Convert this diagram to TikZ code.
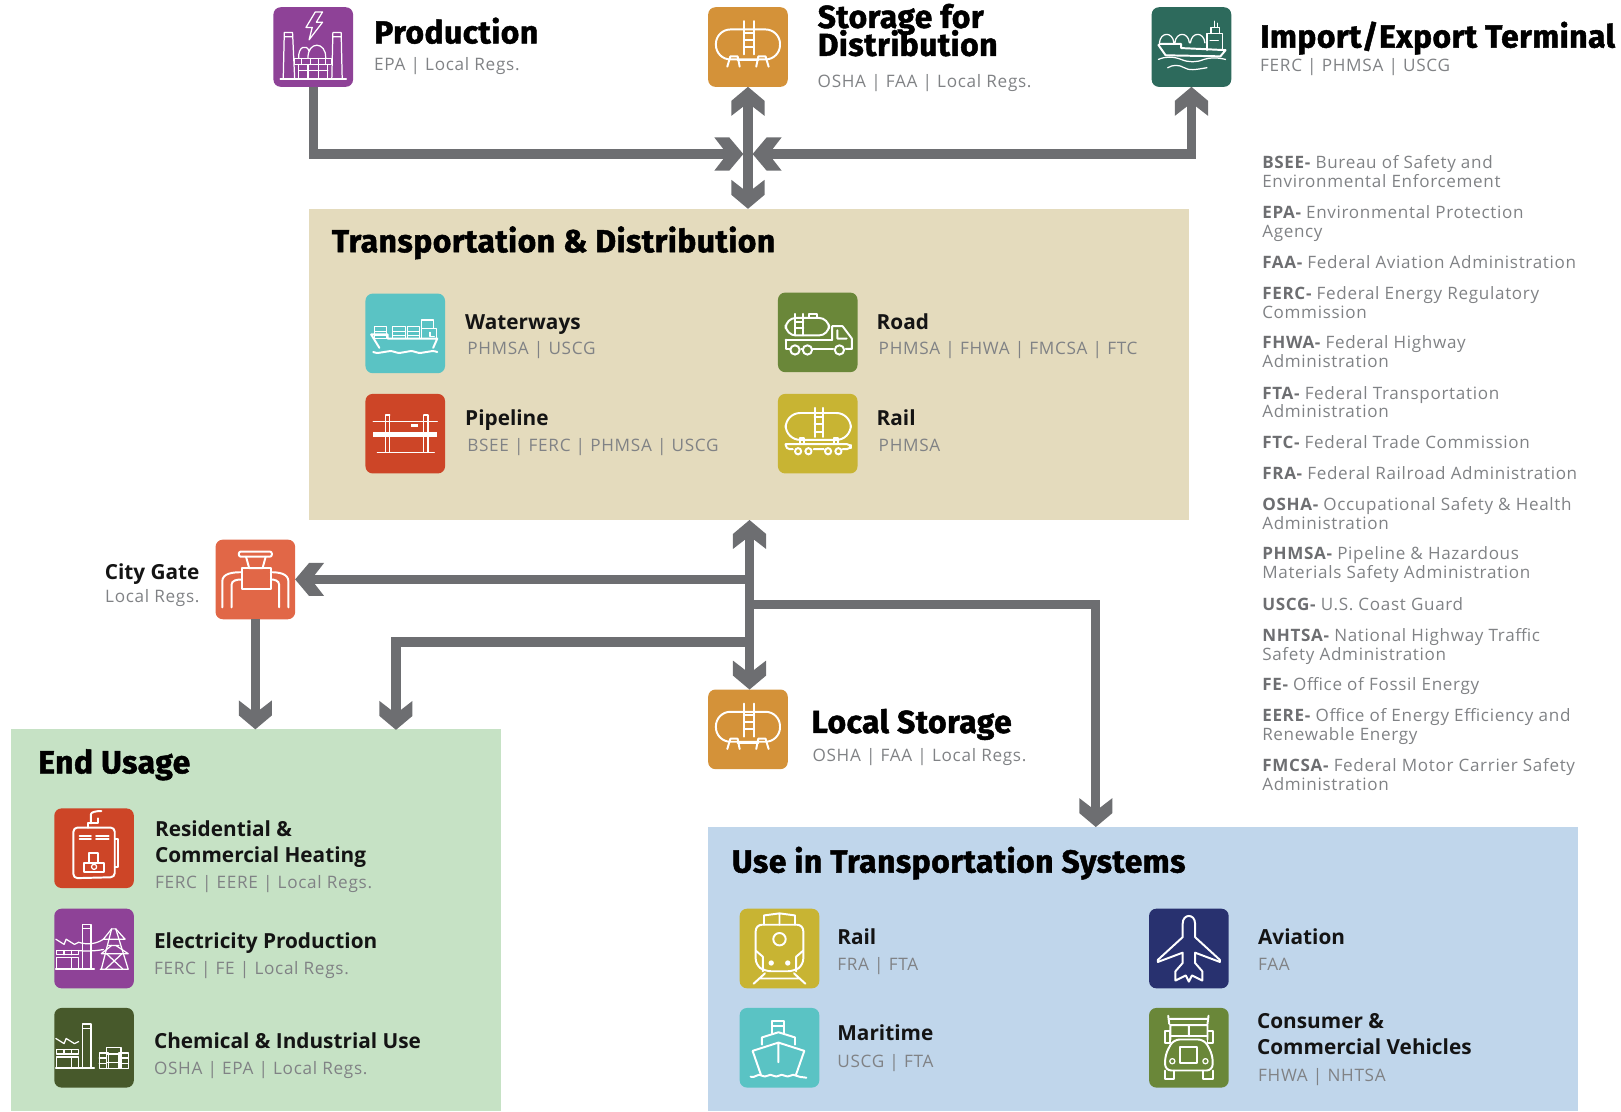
\documentclass[tikz,border=0pt]{standalone}
\usepackage{fontspec}
\usetikzlibrary{arrows.meta}
\setmainfont{Open Sans}
\newfontfamily\headf{Fira Sans}[LetterSpace=1.5,BoldFeatures={FakeBold=1.5}]
\newfontfamily\subf{Open Sans}[LetterSpace=4]
\definecolor{arrowgray}{HTML}{6D6E71}
\definecolor{subgray}{HTML}{808285}
\definecolor{cPurple}{HTML}{8E4297}
\definecolor{cOrange}{HTML}{D49239}
\definecolor{cTeal}{HTML}{2D6A5C}
\definecolor{cAqua}{HTML}{5AC3C4}
\definecolor{cOlive}{HTML}{6A8739}
\definecolor{cRed}{HTML}{CD4527}
\definecolor{cYellow}{HTML}{C8B433}
\definecolor{cCoral}{HTML}{E16747}
\definecolor{cDark}{HTML}{47592B}
\definecolor{cNavy}{HTML}{28316F}
\definecolor{pTan}{HTML}{E4DBBD}
\definecolor{pGreen}{HTML}{C6E2C5}
\definecolor{pBlue}{HTML}{C0D6EB}
\pgfdeclarearrow{
  name=Chev,
  setup code={
    \pgfarrowssettipend{0pt}
    \pgfarrowssetlineend{-9pt}
    \pgfarrowssetvisualbackend{-14pt}
    \pgfarrowssetbackend{-14pt}
    \pgfarrowshullpoint{0pt}{0pt}
    \pgfarrowsupperhullpoint{-14pt}{8pt}
  },
  drawing code={
    \pgfpathmoveto{\pgfqpoint{0pt}{0pt}}
    \pgfpathlineto{\pgfqpoint{-6.75pt}{8pt}}
    \pgfpathlineto{\pgfqpoint{-14pt}{8pt}}
    \pgfpathlineto{\pgfqpoint{-9.5pt}{2.2pt}}
    \pgfpathlineto{\pgfqpoint{-9.5pt}{-2.2pt}}
    \pgfpathlineto{\pgfqpoint{-14pt}{-8pt}}
    \pgfpathlineto{\pgfqpoint{-6.75pt}{-8pt}}
    \pgfpathclose
    \pgfusepathqfill
  },
}
\tikzset{
  x=0.5pt,y=-0.5pt,
  panel/.style={inner sep=0pt,outer sep=0pt,anchor=north west},
  icon/.style={inner sep=0pt,outer sep=0pt,minimum size=38.5pt,rounded corners=3.5pt},
  conn/.style={draw=arrowgray,line width=4.4pt},
  ic/.style={draw=white,line width=.95pt,line join=round,line cap=round},
  ict/.style={draw=white,line width=.6pt,line join=round,line cap=round},
  txt/.style={inner sep=0pt,outer sep=0pt,anchor=base west},
  head/.style={txt,font=\headf\bfseries\fontsize{15.4}{13.5}\selectfont,text=black},
  lab/.style={txt,yshift=-.5pt,font=\bfseries\fontsize{10.05}{12.6}\selectfont,text=black!92},
  sub/.style={txt,font=\subf\fontsize{8.3}{10}\selectfont,text=subgray},
  leg/.style={txt,font=\subf\fontsize{8.25}{9.15}\selectfont,text=subgray},
}
\newcommand\twol[2]{\vtop{\lineskiplimit=-100pt\hbox{#1}\hbox{#2}}}
\newcommand\bb[1]{{\bfseries\color{arrowgray}#1}}
\newcommand\putic[2]{\begin{scope}[shift={(#1.center)}]#2\end{scope}}
\newcommand\icoTank{%
  \draw[ic,rounded corners=7pt](-31,-17) rectangle (31,12);
  \draw[ic](-20,19)--(-17,9)--(-10,9)--(-8,19) (8,19)--(10,9)--(17,9)--(20,19);
  \draw[ic](-10,13)--(10,13);
  \draw[ic](-4,-25)--(-4,7) (6,-25)--(6,7) (-4,-14)--(6,-14) (-4,-7)--(6,-7) (-4,0)--(6,0);
}
\newcommand\icoProd{%
  \draw[ict](2,-34)--(-7,-19)--(-1,-19)--(-4,-7)--(9,-24)--(3,-24)--(9,-34)--cycle;
  \draw[ict](-29,30)--(-28,-14)--(-20,-14)--(-18,30) (-28,-10)--(-20,-10);
  \draw[ict](18,30)--(19,-14)--(27,-14)--(28,30) (19,-10)--(27,-10);
  \draw[ict](-14,11)..controls(-15,-1)and(-6,-3)..(-4,4) (-5,11)..controls(-6,-6)and(13,-6)..(12,11);
  \draw[ict](-18,11)--(18,11)--(18,17)--(-18,17)--cycle (-11,11)--(-11,17) (-3,11)--(-3,17) (5,11)--(5,17) (12,11)--(12,17);
  \draw[ict](-14,17)--(-14,30) (-5,17)--(-5,30) (5,17)--(5,30) (14,17)--(14,30);
  \draw[ict](-32,31)--(32,31) (-14,23)--(14,23);
}
\newcommand\icoTerm{%
  \draw[ict](-31,-4)..controls(-30,-15)and(-18,-15)..(-17,-4) (-16,-4)..controls(-15,-15)and(-3,-15)..(-2,-4) (-1,-4)..controls(0,-15)and(12,-15)..(13,-4);
  \draw[ict](15,3)--(15,-13)--(30,-13)--(30,3) (19,-13)--(19,-19)--(27,-19)--(27,-13) (22,-19)--(22,-25) (25,-19)--(25,-23) (18,-6)--(26,-6);
  \draw[ic](-32,-2)--(-25,8)--(28,9)--(33,3)--(-10,1)--(-10,-3)--(-31,-3);
  \draw[ict](-32,12)..controls(-25,9)and(-18,9)..(-10,12)..controls(-3,15)and(5,15)..(12,12)..controls(18,10)and(25,10)..(33,12);
  \draw[ict](-23,20)..controls(-18,17)and(-12,17)..(-7,20)..controls(-2,23)and(3,22)..(15,20);
}
\newcommand\icoWater{%
  \foreach \xx in {-30,-12,2}{\draw[ict](\xx,-7) rectangle ++(12,5) (\xx,-2) rectangle ++(12,4) (\xx,2) rectangle ++(12,3);}
  \draw[ict](16,-13) rectangle (27,-5) (16,-5) rectangle (30,5) (24,-1)--(24,3)--(28,3);
  \draw[ic](-33,1)--(-25,14) (-33,1)--(-17,1)--(-17,5)--(31,5)--(27,14);
  \draw[ic](-31,18)..controls(-24,21)and(-17,15)..(-10,18)..controls(-3,21)and(3,15)..(10,18)..controls(17,21)and(24,15)..(31,18);
}
\newcommand\icoRoad{%
  \draw[ic,rounded corners=5pt](-31,-14) rectangle (11,3);
  \draw[ic](-22,-18)--(-22,3) (-14,-18)--(-14,3) (-22,-10)--(-14,-10) (-22,-4)--(-14,-4);
  \draw[ic](-8,-14)--(-8,-18)--(-1,-18)--(-1,-14);
  \draw[ic](14,7)--(14,-6)--(24,-6)--(33,6)--(33,16)--(27,16) (19,-2)--(19,6)--(28,6);
  \draw[ic](-31,7)--(14,7) (-31,7)--(-31,16)--(-27,16) (-5,16)--(15,16) (-16,16)--(-15,16);
  \draw[ic](-22,17) circle (4.5) (-10,17) circle (4.5) (21,17) circle (4.5);
}
\newcommand\icoPipe{%
  \draw[ict](-31,-12)--(31,-12) (-27,18)--(28,18);
  \draw[line width=2.4pt,white](-31,1)--(31,1);
  \draw[ict](-19,-18)--(-19,18) (-15,-18)--(-15,18) (18,-18)--(18,18) (22,-18)--(22,18) (-19,-18)--(-15,-18) (18,-18)--(22,-18);
  \draw[line width=1.6pt,white](6,-8)--(12,-8);
}
\newcommand\icoRail{%
  \draw[ic,rounded corners=7pt](-31,-20) rectangle (32,6);
  \draw[ic](-3,-25)--(-3,3) (5,-25)--(5,3) (-3,-16)--(5,-16) (-3,-9)--(5,-9) (-3,-2)--(5,-2);
  \draw[ic](-17,10)--(-17,4)--(-13,4)--(-13,10) (16,10)--(16,4)--(20,4)--(20,10);
  \draw[ic,rounded corners=2pt](-31,10)--(32,10)--(32,15)--(24,15) (-31,10)--(-31,15)--(-24,15) (-4,15)--(6,15);
  \draw[ic](-19,17) circle (3) (-9,17) circle (3) (10,17) circle (3) (20,17) circle (3);
}
\newcommand\icoGate{%
  \draw[ic,rounded corners=1pt](-16,-27) rectangle (16,-22);
  \draw[ic](-9,-22)--(-6,-11)--(7,-11)--(10,-22);
  \draw[ic](-13,-11) rectangle (15,9);
  \draw[ic](-32,27)--(-32,2)..controls(-32,-6)and(-22,-7)..(-13,-7) (-23,27)--(-23,5)..controls(-23,1)and(-18,0)..(-13,0);
  \draw[ic](32,27)--(32,2)..controls(32,-6)and(22,-7)..(15,-7) (23,27)--(23,5)..controls(23,1)and(18,0)..(15,0);
}
\newcommand\icoHeat{%
  \draw[ic,rounded corners=2pt](-20,-20)--(20,-20)--(20,28)--(-20,29)--cycle;
  \draw[ic](-6,-20)--(-6,-24)--(4,-24)--(4,-29);
  \draw[ic](-3,-24)--(-3,-33)..controls(-3,-35)and(2,-36)..(7,-36);
  \draw[ic](-14,-12)--(-3,-12) (2,-12)--(14,-12) (-14,-9)--(-3,-9) (2,-9)--(14,-9);
  \draw[ic](20,-9)--(23,-9)--(23,18)--(20,18);
  \draw[ic](-10,14) rectangle (10,23) (-5,5) rectangle (4,14);
  \draw[ict](0,18) circle (2.5);
}
\newcommand\icoFact{%
  \draw[ict](-11,20)--(-11,-23)--(-3,-23)--(-3,20) (-11,-19)--(-3,-19);
  \draw[ict](-37,-9)--(-29,-4)--(-27,-9)--(-19,-4)--(-15,-6);
  \draw[ict](-36,2) rectangle (-15,6) (-29,2)--(-29,6) (-22,2)--(-22,6);
  \draw[ict](-36,9) rectangle (-15,20) (-22,9)--(-22,20);
  \draw[ic](-37,20)--(0,20);
}
\newcommand\icoElec{%
  \icoFact
  \draw[ict](7,20)--(17,-19)--(21,-19)--(33,20) (6,20)--(33,20);
  \draw[ict](9,-9)--(30,-9)--(21,-19) (9,-9)--(17,-19) (7,5)--(33,5)--(21,-3) (7,5)--(17,-3);
  \draw[ict](14,-3)--(24,-3) (12,5)--(28,20) (27,5)--(11,20);
  \draw[ict](-15,-6)..controls(-5,-3)and(3,-5)..(9,-9) (-15,2)..controls(-5,3)and(3,2)..(9,1);
}
\newcommand\icoChem{%
  \icoFact
  \draw[ict](5,5) rectangle (14,20) (24,5) rectangle (33,20) (12,0) rectangle (26,20);
  \draw[ict](5,10)--(12,10) (5,15)--(12,15) (26,10)--(33,10) (26,15)--(33,15) (12,6)--(26,6) (12,14)--(26,14);
}
\newcommand\icoLoco{%
  \draw[ic](-15,-23)--(-15,-32)--(0,-34)--(15,-32)--(15,-23) (0,-34)--(0,-23);
  \draw[ic,rounded corners=3pt](-8,-23)--(-23,-23)--(-23,2)--(-23,16)--(-14,22)--(14,22)--(23,16)--(23,-23)--(8,-23)--cycle;
  \draw[ic](-23,2)--(-16,8) (23,2)--(16,8) (-16,8)--(-16,22) (16,8)--(16,22);
  \draw[ic](0,-9) circle (6);
  \fill[white](-8,14) circle (2.6) (8,14) circle (2.6);
  \draw[ic](-14,24)--(-25,34) (14,24)--(25,34) (-19,29)--(19,29);
}
\newcommand\icoPlane{%
  \draw[ic](-6,-24)..controls(-6,-34)and(6,-34)..(6,-24)--(6,-11)--(30,11)--(30,13)--(6,4)--(6,14)--(13,22)--(13,31)--(3,26)--(0,32)--(-3,26)--(-13,31)--(-13,22)--(-6,14)--(-6,4)--(-30,13)--(-30,11)--(-6,-11)--cycle;
}
\newcommand\icoShip{%
  \draw[ic](-7,-14)--(-7,-26)--(4,-26)--(4,-14) (-7,-21)--(4,-21);
  \draw[ic](-17,-3)--(-17,-10)--(-1,-15)--(15,-10)--(15,-3);
  \draw[ic](-26,3)--(-1,-5)--(24,3)--(16,26) (-26,3)--(-18,26) (-1,-5)--(-1,14);
  \draw[ic](-28,28)..controls(-24,30)and(-21,24)..(-17,27)..controls(-13,30)and(-10,24)..(-6,27)..controls(-2,30)and(1,24)..(5,27)..controls(9,30)and(12,24)..(16,27)..controls(19,29)and(22,28)..(26,29);
}
\newcommand\icoTruck{%
  \draw[ic](-20,-31)--(-19,-23) (19,-31)--(18,-23) (-18,-28)--(18,-28) (-18,-22)--(18,-22) (-18,-22)--(-18,-8) (18,-22)--(18,-8) (0,-22)--(0,-11);
  \draw[ic](-23,-16) rectangle (-18,-5) (18,-16) rectangle (23,-5);
  \draw[ic](-18,-11)--(18,-11);
  \draw[ic,rounded corners=3pt](-23,22)--(-23,7)--(-15,-8)--(15,-8)--(23,7)--(23,22)--cycle;
  \draw[ic](-9,-1) rectangle (8,15);
  \draw[ict](-16,13) circle (2.5) (16,13) circle (2.5);
  \draw[ic](-23,22)--(-23,30)--(-14,30)--(-14,22) (23,22)--(23,30)--(14,30)--(14,22);
}
\begin{document}
\begin{tikzpicture}
\useasboundingbox (0,0) rectangle (1568,1074.7);
% panels
\node[panel,fill=pTan,minimum width=425.5pt,minimum height=150.5pt] (td) at (299,202) {};
\node[panel,fill=pGreen,minimum width=237pt,minimum height=184.5pt] (endu) at (11,705.5) {};
\node[panel,fill=pBlue,minimum width=420.5pt,minimum height=137.5pt] (useT) at (685,799.5) {};
% icons
\node[icon,fill=cPurple] (prod) at (303,45.5) {};
\node[icon,fill=cOrange] (store) at (723.5,45.5) {};
\node[icon,fill=cTeal] (impt) at (1152.5,45.5) {};
\node[icon,fill=cAqua] (water) at (392,322.5) {};
\node[icon,fill=cOlive] (road) at (791,321.5) {};
\node[icon,fill=cRed] (pipe) at (392,419.5) {};
\node[icon,fill=cYellow] (rail) at (791,419.5) {};
\node[icon,fill=cCoral] (city) at (247,560.5) {};
\node[icon,fill=cOrange] (lstore) at (723.5,705.5) {};
\node[icon,fill=cRed] (heat) at (91,820.5) {};
\node[icon,fill=cPurple] (elec) at (91,917.5) {};
\node[icon,fill=cDark] (chem) at (91,1013.5) {};
\node[icon,fill=cYellow] (loco) at (754,917.5) {};
\node[icon,fill=cNavy] (plane) at (1150,917.5) {};
\node[icon,fill=cAqua] (ship) at (754,1013.5) {};
\node[icon,fill=cOlive] (truck) at (1150,1013.5) {};
% connectors
\coordinate (hubL) at (719,149);
\coordinate (hubR) at (728,149);
\coordinate (tt) at (725,503);
\coordinate (tb) at (725,667);
\coordinate (j1) at (725,560.5);
\coordinate (j2) at (725,621);
\coordinate (j3) at (725,585);
\coordinate (e2) at (383,706);
\coordinate (u3) at (1060,800);
\draw[conn,-Chev] (prod.south) |- (hubL);
\draw[conn,Chev-Chev] (hubR) -| (impt.south);
\draw[conn,Chev-Chev] (store.south) -- (store.south |- td.north);
\draw[conn,Chev-Chev] (tb) -- (tt);
\draw[conn,-Chev] (j1) -- (city.east);
\draw[conn,-Chev] (city.south) -- (city.south |- endu.north);
\draw[conn,-Chev] (j2) -| (e2);
\draw[conn,-Chev] (j3) -| (u3);
% icon drawings
\putic{prod}{\icoProd}
\putic{store}{\icoTank}
\putic{impt}{\icoTerm}
\putic{water}{\icoWater}
\putic{road}{\icoRoad}
\putic{pipe}{\icoPipe}
\putic{rail}{\icoRail}
\putic{city}{\icoGate}
\putic{lstore}{\icoTank}
\putic{heat}{\icoHeat}
\putic{elec}{\icoElec}
\putic{chem}{\icoChem}
\putic{loco}{\icoLoco}
\putic{plane}{\icoPlane}
\putic{ship}{\icoShip}
\putic{truck}{\icoTruck}
% top labels
\node[head] (t1) at (362,42) {Production};
\node[sub] (s1) at (362,68) {EPA | Local Regs.};
\node[head] (t2) at (791,27) {\twol{Storage for}{Distribution}};
\node[sub] (s2) at (791,85) {OSHA | FAA | Local Regs.};
\node[head] (t3) at (1219,46) {Import/Export Terminal};
\node[sub] (s3) at (1219,69) {FERC | PHMSA | USCG};
% transport panel
\node[head] (t4) at (321,244) {Transportation \& Distribution};
\node[lab] (l1) at (450,318) {Waterways};
\node[sub] (l1s) at (452,343) {PHMSA | USCG};
\node[lab] (l2) at (450,411) {Pipeline};
\node[sub] (l2s) at (452,437) {BSEE | FERC | PHMSA | USCG};
\node[lab] (l3) at (848,318) {Road};
\node[sub] (l3s) at (850,343) {PHMSA | FHWA | FMCSA | FTC};
\node[lab] (l4) at (848,411) {Rail};
\node[sub] (l4s) at (850,437) {PHMSA};
% city gate
\node[lab,anchor=base east] (c1) at (193,560) {City Gate};
\node[sub,anchor=base east] (c2) at (193,583) {Local Regs.};
% local storage
\node[head] (t5) at (785,709) {Local Storage};
\node[sub] (s5) at (786,737) {OSHA | FAA | Local Regs.};
% end usage
\node[head] (t6) at (37,748) {End Usage};
\node[lab] (e1) at (150,808) {\twol{Residential \&}{Commercial Heating}};
\node[sub] (e1s) at (150,859) {FERC | EERE | Local Regs.};
\node[lab] (e2t) at (149,916) {Electricity Production};
\node[sub] (e2s) at (149,943) {FERC | FE | Local Regs.};
\node[lab] (e3) at (149,1013) {Chemical \& Industrial Use};
\node[sub] (e3s) at (149,1039) {OSHA | EPA | Local Regs.};
% use in transport
\node[head] (t7) at (708,844) {Use in Transportation Systems};
\node[lab] (u1) at (810,913) {Rail};
\node[sub] (u1s) at (810,939) {FRA | FTA};
\node[lab] (u2) at (810,1005) {Maritime};
\node[sub] (u2s) at (810,1033) {USCG | FTA};
\node[lab] (u3t) at (1217,913) {Aviation};
\node[sub] (u3s) at (1217,939) {FAA};
\node[lab] (u4) at (1216,994) {\twol{Consumer \&}{Commercial Vehicles}};
\node[sub] (u4s) at (1217,1046) {FHWA | NHTSA};
% legend
\node[leg] (k1) at (1221,163) {\twol{\bb{BSEE-} Bureau of Safety and}{Environmental Enforcement}};
\node[leg] (k2) at (1221,211) {\twol{\bb{EPA-} Environmental Protection}{Agency}};
\node[leg] (k3) at (1221,259.5) {\bb{FAA-} Federal Aviation Administration};
\node[leg] (k4) at (1221,290) {\twol{\bb{FERC-} Federal Energy Regulatory}{Commission}};
\node[leg] (k5) at (1221,337) {\twol{\bb{FHWA-} Federal Highway}{Administration}};
\node[leg] (k6) at (1221,386) {\twol{\bb{FTA-} Federal Transportation}{Administration}};
\node[leg] (k7) at (1221,434) {\bb{FTC-} Federal Trade Commission};
\node[leg] (k8) at (1221,464) {\bb{FRA-} Federal Railroad Administration};
\node[leg] (k9) at (1221,494) {\twol{\bb{OSHA-} Occupational Safety \& Health}{Administration}};
\node[leg] (k10) at (1221,541) {\twol{\bb{PHMSA-} Pipeline \& Hazardous}{Materials Safety Administration}};
\node[leg] (k11) at (1221,591) {\bb{USCG-} U.S. Coast Guard};
\node[leg] (k12) at (1221,621) {\twol{\bb{NHTSA-} National Highway Traffic}{Safety Administration}};
\node[leg] (k13) at (1221,668) {\bb{FE-} Office of Fossil Energy};
\node[leg] (k14) at (1221,698) {\twol{\bb{EERE-} Office of Energy Efficiency and}{Renewable Energy}};
\node[leg] (k15) at (1221,746) {\twol{\bb{FMCSA-} Federal Motor Carrier Safety}{Administration}};
\end{tikzpicture}
\end{document}
